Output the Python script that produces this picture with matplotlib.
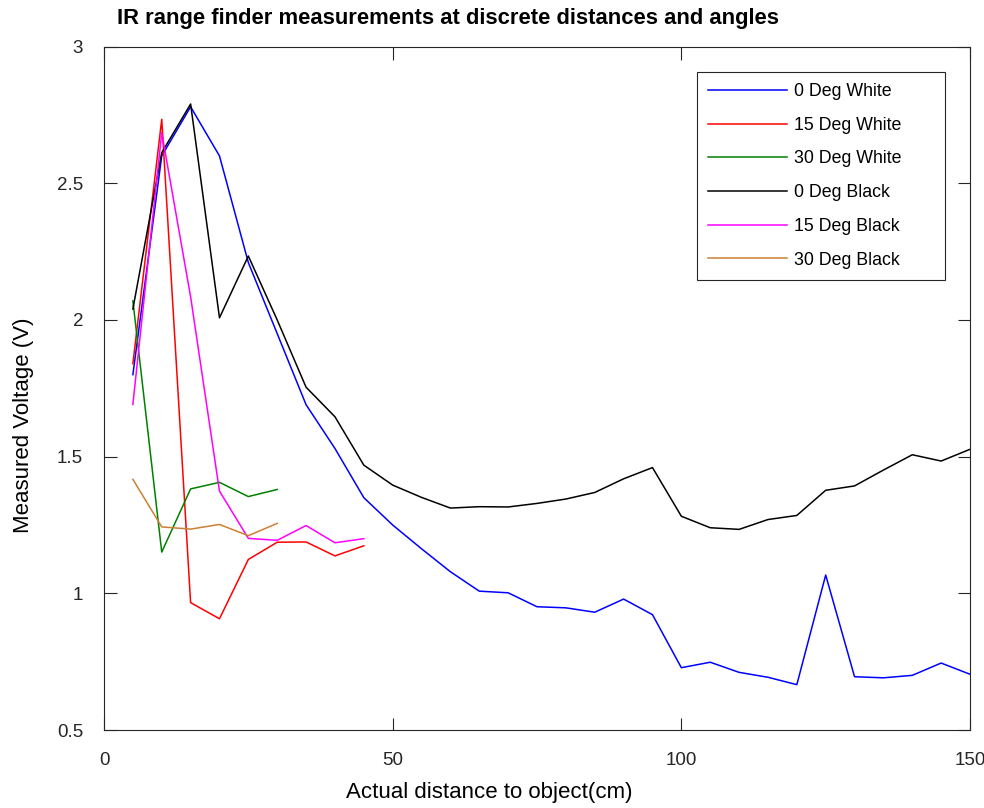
#!/usr/bin/env python3
"""IR range finder voltage vs distance for each target angle and colour."""
import matplotlib

matplotlib.use("Agg")
import matplotlib.pyplot as plt

plt.rcParams["font.family"] = ["Liberation Sans", "DejaVu Sans"]

# Distances (cm)
dist_long = list(range(5, 155, 5))
dist_short = list(range(5, 50, 5))
dist_30 = list(range(5, 35, 5))

# Measured voltages (V)
white_0 = [1.80, 2.60, 2.78, 2.60, 2.21, 1.95, 1.69, 1.53, 1.35, 1.25,
           1.163, 1.079, 1.008, 1.002, 0.951, 0.947, 0.931, 0.979, 0.922, 0.728,
           0.748, 0.711, 0.693, 0.666, 1.067, 0.695, 0.691, 0.700, 0.745, 0.704]
white_15 = [1.84, 2.734, 0.966, 0.907, 1.124, 1.187, 1.188, 1.137, 1.174]
white_30 = [2.07, 1.151, 1.382, 1.406, 1.354, 1.380]
black_0 = [2.04, 2.612, 2.790, 2.008, 2.234, 2.00, 1.754, 1.646, 1.469, 1.396,
           1.351, 1.312, 1.317, 1.316, 1.329, 1.345, 1.369, 1.419, 1.460, 1.282,
           1.240, 1.234, 1.270, 1.285, 1.377, 1.393, 1.451, 1.507, 1.484, 1.527]
black_15 = [1.691, 2.685, 2.085, 1.374, 1.201, 1.194, 1.248, 1.185, 1.200]
black_30 = [1.417, 1.243, 1.235, 1.252, 1.211, 1.256]

fig = plt.figure(figsize=(9.84, 8.08), dpi=100)
ax = fig.add_axes([0.1057, 0.0965, 0.8801, 0.8458])

ax.plot(dist_long, white_0, color=(0, 0, 1), lw=1.1, label="0 Deg White")
ax.plot(dist_short, white_15, color=(1, 0, 0), lw=1.1, label="15 Deg White")
ax.plot(dist_30, white_30, color=(0, 0.5, 0), lw=1.1, label="30 Deg White")
ax.plot(dist_long, black_0, color=(0, 0, 0), lw=1.1, label="0 Deg Black")
ax.plot(dist_short, black_15, color=(1, 0, 1), lw=1.1, label="15 Deg Black")
ax.plot(dist_30, black_30, color=(0.8, 0.5, 0.2), lw=1.1, label="30 Deg Black")

ax.set_xlim(0, 150)
ax.set_ylim(0.5, 3)
ax.set_xticks([0, 50, 100, 150])
ax.set_yticks([0.5, 1, 1.5, 2, 2.5, 3])
ax.set_yticklabels(["0.5", "1", "1.5", "2", "2.5", "3"])
ax.tick_params(direction="in", top=True, right=True, length=9, width=0.8,
               colors="#262626", labelsize=13.5)
ax.tick_params(axis="x", pad=16)
ax.tick_params(axis="y", pad=15)
for spine in ax.spines.values():
    spine.set_color("#262626")
    spine.set_linewidth(0.8)

ax.set_xlabel("Actual distance to object(cm)", fontsize=16)
ax.xaxis.set_label_coords((489 - 104) / 866, (730 - 792) / 683, transform=ax.transAxes)
ax.xaxis.label.set_va("center")
ax.set_ylabel("Measured Voltage (V)", fontsize=16)
ax.yaxis.set_label_coords((23 - 104) / 866, (730 - 425) / 683, transform=ax.transAxes)
ax.yaxis.label.set_va("center")
fig.text(117 / 984, 1 - 24 / 808, "IR range finder measurements at discrete distances and angles",
         fontsize=15.8, fontweight="bold", ha="left", va="baseline")

leg = ax.legend(loc="upper left",
                bbox_to_anchor=(697 / 984, 1 - 278 / 808, 248 / 984, 206 / 808),
                bbox_transform=fig.transFigure, mode="expand",
                fontsize=12.8, handlelength=4.45, labelspacing=0.94,
                handletextpad=0.4, borderpad=0.62, borderaxespad=0,
                fancybox=False, framealpha=1, edgecolor="#262626")
leg.get_frame().set_linewidth(0.8)

fig.savefig("out.png", dpi=100)
